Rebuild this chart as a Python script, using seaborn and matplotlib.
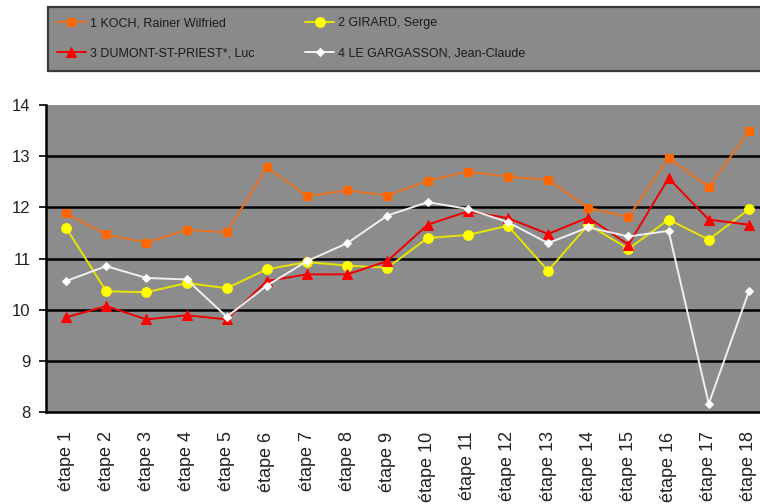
import matplotlib
matplotlib.use("Agg")
import matplotlib.pyplot as plt
from matplotlib.patches import Rectangle
import seaborn as sns
import pandas as pd
import numpy as np

etapes = [f"étape {i}" for i in range(1, 19)]
koch = [11.88, 11.47, 11.31, 11.56, 11.51, 12.78, 12.22, 12.33, 12.23, 12.52,
        12.70, 12.60, 12.54, 11.99, 11.81, 12.97, 12.39, 13.49]
girard = [11.60, 10.36, 10.34, 10.52, 10.42, 10.79, 10.93, 10.86, 10.82, 11.40,
          11.46, 11.64, 10.76, 11.66, 11.19, 11.76, 11.37, 11.96]
dumont = [9.85, 10.07, 9.81, 9.89, 9.81, 10.56, 10.69, 10.69, 10.95, 11.66,
          11.92, 11.79, 11.48, 11.80, 11.27, 12.57, 11.76, 11.66]
legarg = [10.56, 10.85, 10.62, 10.59, 9.86, 10.47, 10.95, 11.30, 11.84, 12.10,
          11.97, 11.71, 11.30, 11.61, 11.43, 11.54, 8.16, 10.36]
names = ["1 KOCH, Rainer Wilfried", "2 GIRARD, Serge",
         "3 DUMONT-ST-PRIEST*, Luc", "4 LE GARGASSON, Jean-Claude"]
yticks = [8, 9, 10, 11, 12, 13, 14]

sns.set_theme(style="white")
plt.rcParams['font.family'] = ['Liberation Sans', 'DejaVu Sans']

W, H = 760, 504
fig = plt.figure(figsize=(W / 100, H / 100), dpi=100)
fig.patch.set_facecolor("white")

l, r, t, b = 46, 769, 105, 412
ax = fig.add_axes([l / W, 1 - b / H, (r - l) / W, (b - t) / H])
ax.set_facecolor("#8c8c8c")

styles = [
    dict(color="#e8701e", marker="s", mfc="#ff6600", mec="#ff6600", ms=6),
    dict(color="#e6e600", marker="o", mfc="#ffff00", mec="#ffff00", ms=7),
    dict(color="#ee0000", marker="^", mfc="#ff0000", mec="#ff0000", ms=7.5),
    dict(color="#f0f0f0", marker="D", mfc="#ffffff", mec="#ffffff", ms=4.5),
]
series = [koch, girard, dumont, legarg]
handles = []
for name, vals, st in zip(names, series, styles):
    df = pd.DataFrame({"etape": etapes, "note": vals})
    sns.lineplot(data=df, x="etape", y="note", ax=ax, color=st["color"],
                 marker=st["marker"], markersize=st["ms"],
                 markerfacecolor=st["mfc"], markeredgecolor=st["mec"],
                 linewidth=1.4, sort=False, label=name, legend=False)
    handles.append(ax.lines[-1])

ax.set_ylim(8, 14)
ax.set_xlim(-0.5, 17.5)
for y in yticks[1:-1]:
    ax.axhline(y, color="black", lw=1.8, zorder=1)
ax.set_yticks(yticks)
ax.set_yticklabels([str(v) for v in yticks], fontsize=12, color="#222222")
ax.set_xticks(range(len(etapes)))
ax.set_xticklabels(etapes, rotation=90, fontsize=13, color="#222222")
ax.set_xticks(np.arange(-0.5, 18, 1), minor=True)
ax.tick_params(axis="x", which="major", length=0, pad=14)
ax.tick_params(axis="x", which="minor", length=5, width=1.2, color="black", direction="out")
ax.tick_params(axis="y", length=5, width=1.2, color="black", direction="out", left=True, pad=6)
ax.set_xlabel("")
ax.set_ylabel("")
for s in ["top", "right"]:
    ax.spines[s].set_visible(False)
for s in ["left", "bottom"]:
    ax.spines[s].set_color("black")
    ax.spines[s].set_linewidth(1.8)

# legend box
fig.patches.append(Rectangle((48 / W, 1 - 71 / H), (770 - 48) / W, (71 - 7) / H,
                             transform=fig.transFigure, facecolor="#8a8a8a",
                             edgecolor="#3a3a3a", lw=1.6, zorder=0))
order = [0, 2, 1, 3]
leg = fig.legend(handles=[handles[i] for i in order], labels=[names[i] for i in order],
                 ncol=2, loc="upper left",
                 bbox_to_anchor=(47 / W, 1 - 7 / H), frameon=False,
                 fontsize=9, handlelength=2.3, handletextpad=0.3,
                 columnspacing=4.1, labelspacing=1.45, borderpad=0.3)
for txt in leg.get_texts():
    txt.set_color("#1a1a1a")

fig.savefig("out.png", dpi=100, facecolor="white")
